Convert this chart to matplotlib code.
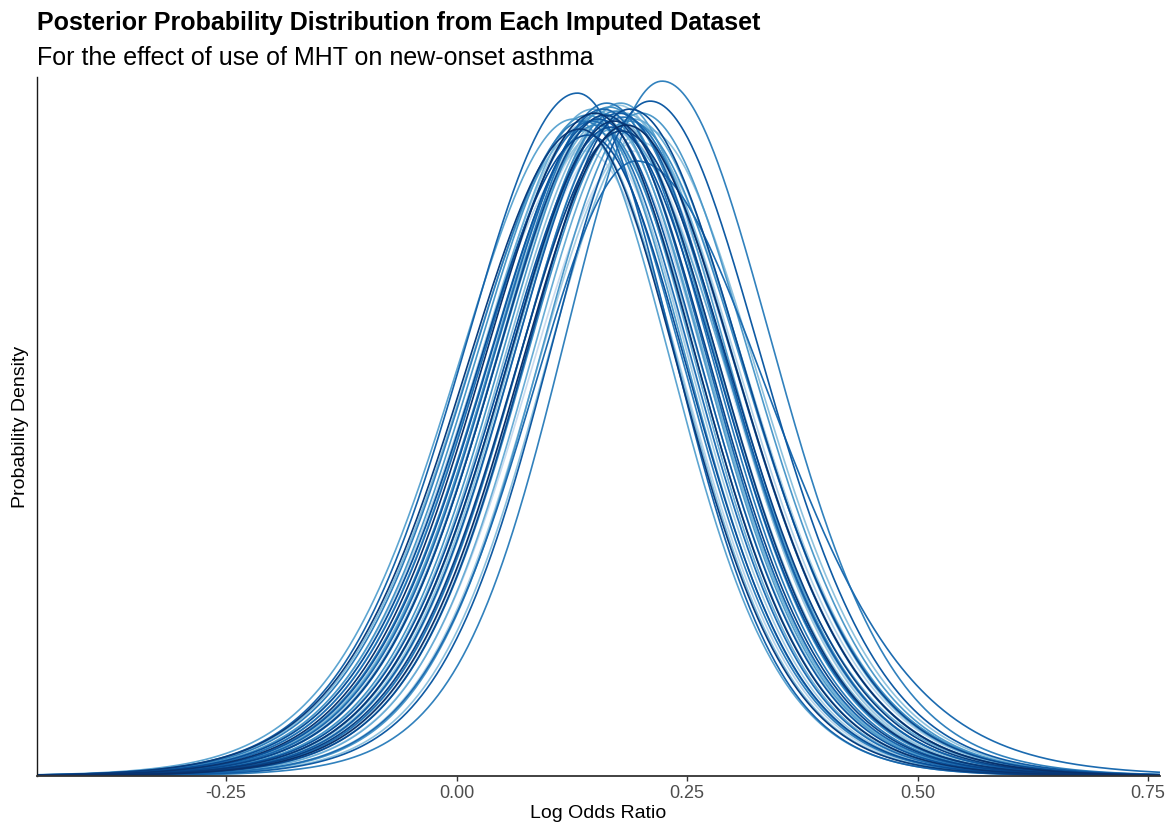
import matplotlib
matplotlib.use("Agg")
import matplotlib.pyplot as plt
import numpy as np

plt.rcParams["font.family"] = ["Liberation Sans", "DejaVu Sans"]

# posterior of the log odds ratio from each imputed dataset (in imputation order):
# mode, density at the mode, and spread on each side of the mode
modes = [0.165, 0.178, 0.150, 0.190, 0.158, 0.172, 0.140, 0.185, 0.162, 0.196,
         0.145, 0.175, 0.155, 0.205, 0.168, 0.136, 0.182, 0.160, 0.148, 0.192,
         0.170, 0.127, 0.178, 0.157, 0.200, 0.142, 0.166, 0.187, 0.152, 0.173,
         0.223, 0.138, 0.163, 0.181, 0.147, 0.195, 0.159, 0.131, 0.176, 0.210,
         0.154, 0.168, 0.143, 0.188, 0.161, 0.179, 0.134, 0.171, 0.150, 0.184]
peak_density = [3.16, 3.21, 3.18, 3.13, 3.24, 3.29, 3.13, 3.26, 3.33, 3.18,
                3.28, 3.36, 3.22, 3.24, 3.31, 3.23, 3.32, 3.28, 3.34, 3.29,
                3.24, 3.29, 3.37, 3.32, 3.32, 3.31, 3.35, 3.28, 3.26, 3.33,
                3.48, 3.28, 3.37, 3.30, 3.28, 3.08, 3.34, 3.42, 3.32, 3.38,
                3.29, 3.25, 3.21, 3.34, 3.31, 3.23, 3.24, 3.28, 3.32, 3.26]
sd_left = [0.124, 0.122, 0.127, 0.120, 0.125, 0.123, 0.130, 0.121, 0.126, 0.118,
           0.129, 0.122, 0.127, 0.116, 0.124, 0.131, 0.121, 0.125, 0.128, 0.119,
           0.123, 0.132, 0.122, 0.126, 0.117, 0.129, 0.124, 0.120, 0.127, 0.123,
           0.112, 0.130, 0.125, 0.121, 0.128, 0.118, 0.126, 0.129, 0.122, 0.115,
           0.127, 0.124, 0.129, 0.120, 0.125, 0.122, 0.131, 0.123, 0.127, 0.121]
sd_right = [0.118, 0.122, 0.116, 0.125, 0.120, 0.119, 0.114, 0.128, 0.117, 0.127,
            0.115, 0.121, 0.119, 0.127, 0.123, 0.113, 0.126, 0.118, 0.116, 0.126,
            0.130, 0.112, 0.122, 0.118, 0.126, 0.114, 0.121, 0.130, 0.117, 0.124,
            0.125, 0.115, 0.120, 0.127, 0.116, 0.150, 0.119, 0.110, 0.123, 0.126,
            0.118, 0.122, 0.115, 0.128, 0.120, 0.125, 0.113, 0.121, 0.117, 0.126]

x_range = (-0.455, 0.763)
x_ticks = [-0.25, 0.0, 0.25, 0.50, 0.75]
x_ticklabels = ["-0.25", "0.00", "0.25", "0.50", "0.75"]
tail_df = 12  # slightly heavier tails than a normal, like the sampled posteriors


def skewed_t(x, m, h, sl, sr):
    s = np.where(x < m, sl, sr)
    z = (x - m) / s
    return h * (1 + z ** 2 / tail_df) ** (-(tail_df + 1) / 2)


fig = plt.figure(figsize=(11.68, 8.25), dpi=100)
ax = fig.add_axes([0.0317, 0.0594, 0.9615, 0.8473])

x = np.linspace(x_range[0], x_range[1], 900)
n = len(modes)
colors = plt.cm.Blues(np.linspace(0.2, 1.0, n))
for i in range(n):
    y = skewed_t(x, modes[i], peak_density[i], sd_left[i], sd_right[i])
    ax.plot(x, y, color=colors[i], lw=1.2, solid_capstyle="round")

ax.set_xlim(*x_range)
ax.set_ylim(0, max(peak_density) * 1.006)

# classic look: only left and bottom lines, no y ticks
ax.spines[["top", "right"]].set_visible(False)
ax.spines["left"].set_color("#1a1a1a")
ax.spines["left"].set_linewidth(1.0)
ax.spines["bottom"].set_color("#333333")
ax.spines["bottom"].set_linewidth(1.3)
ax.set_yticks([])
ax.set_xticks(x_ticks)
ax.set_xticklabels(x_ticklabels)
ax.tick_params(axis="x", length=3.5, width=1.0, color="#333333",
               labelcolor="#4d4d4d", labelsize=13, pad=3)

ax.set_xlabel("Log Odds Ratio", fontsize=14, labelpad=2)
ax.set_ylabel("Probability Density", fontsize=14, labelpad=6)

fig.text(0.0317, 0.9636, "Posterior Probability Distribution from Each Imputed Dataset",
         fontsize=18, fontweight="bold", ha="left", va="baseline")
fig.text(0.0317, 0.9212, "For the effect of use of MHT on new-onset asthma",
         fontsize=18, ha="left", va="baseline")

fig.savefig("out.png", dpi=100)
plt.close(fig)
